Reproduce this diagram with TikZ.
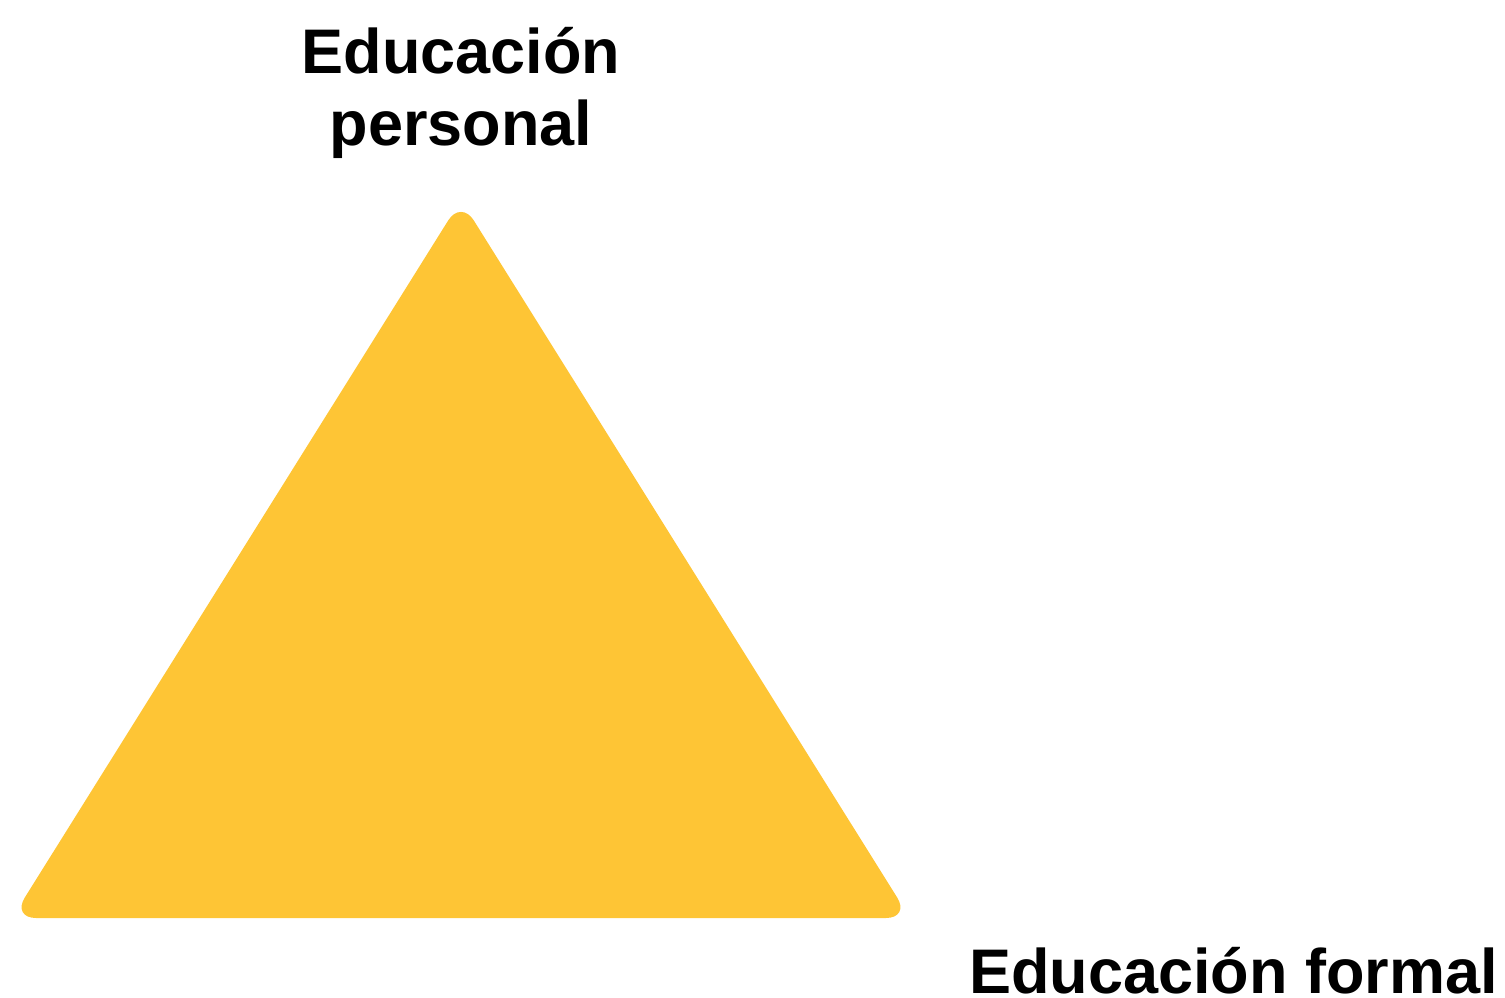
\documentclass[tikz,border=0pt]{standalone}
\usepackage{fontspec}
\setmainfont{Liberation Sans}
\definecolor{triyellow}{HTML}{FEC535}
\tikzset{
  lbl/.style={font=\fontsize{31.5pt}{36pt}\selectfont\bfseries, inner sep=0pt, align=center, text=black},
}
\begin{document}
\begin{tikzpicture}[x=0.5pt,y=-0.5pt]
\useasboundingbox (0,0) rectangle (1505,997);
\coordinate (top) at (461,200);
\coordinate (bl) at (12,918);
\coordinate (br) at (910,918);
\fill[triyellow, rounded corners=12pt] (top) -- (br) -- (bl) -- cycle;
\node[lbl, anchor=base] (pers) at (461,145) {Educación\\personal};
\node[lbl, anchor=base east] (form) at (1498,993) {Educación formal};
\end{tikzpicture}
\end{document}
